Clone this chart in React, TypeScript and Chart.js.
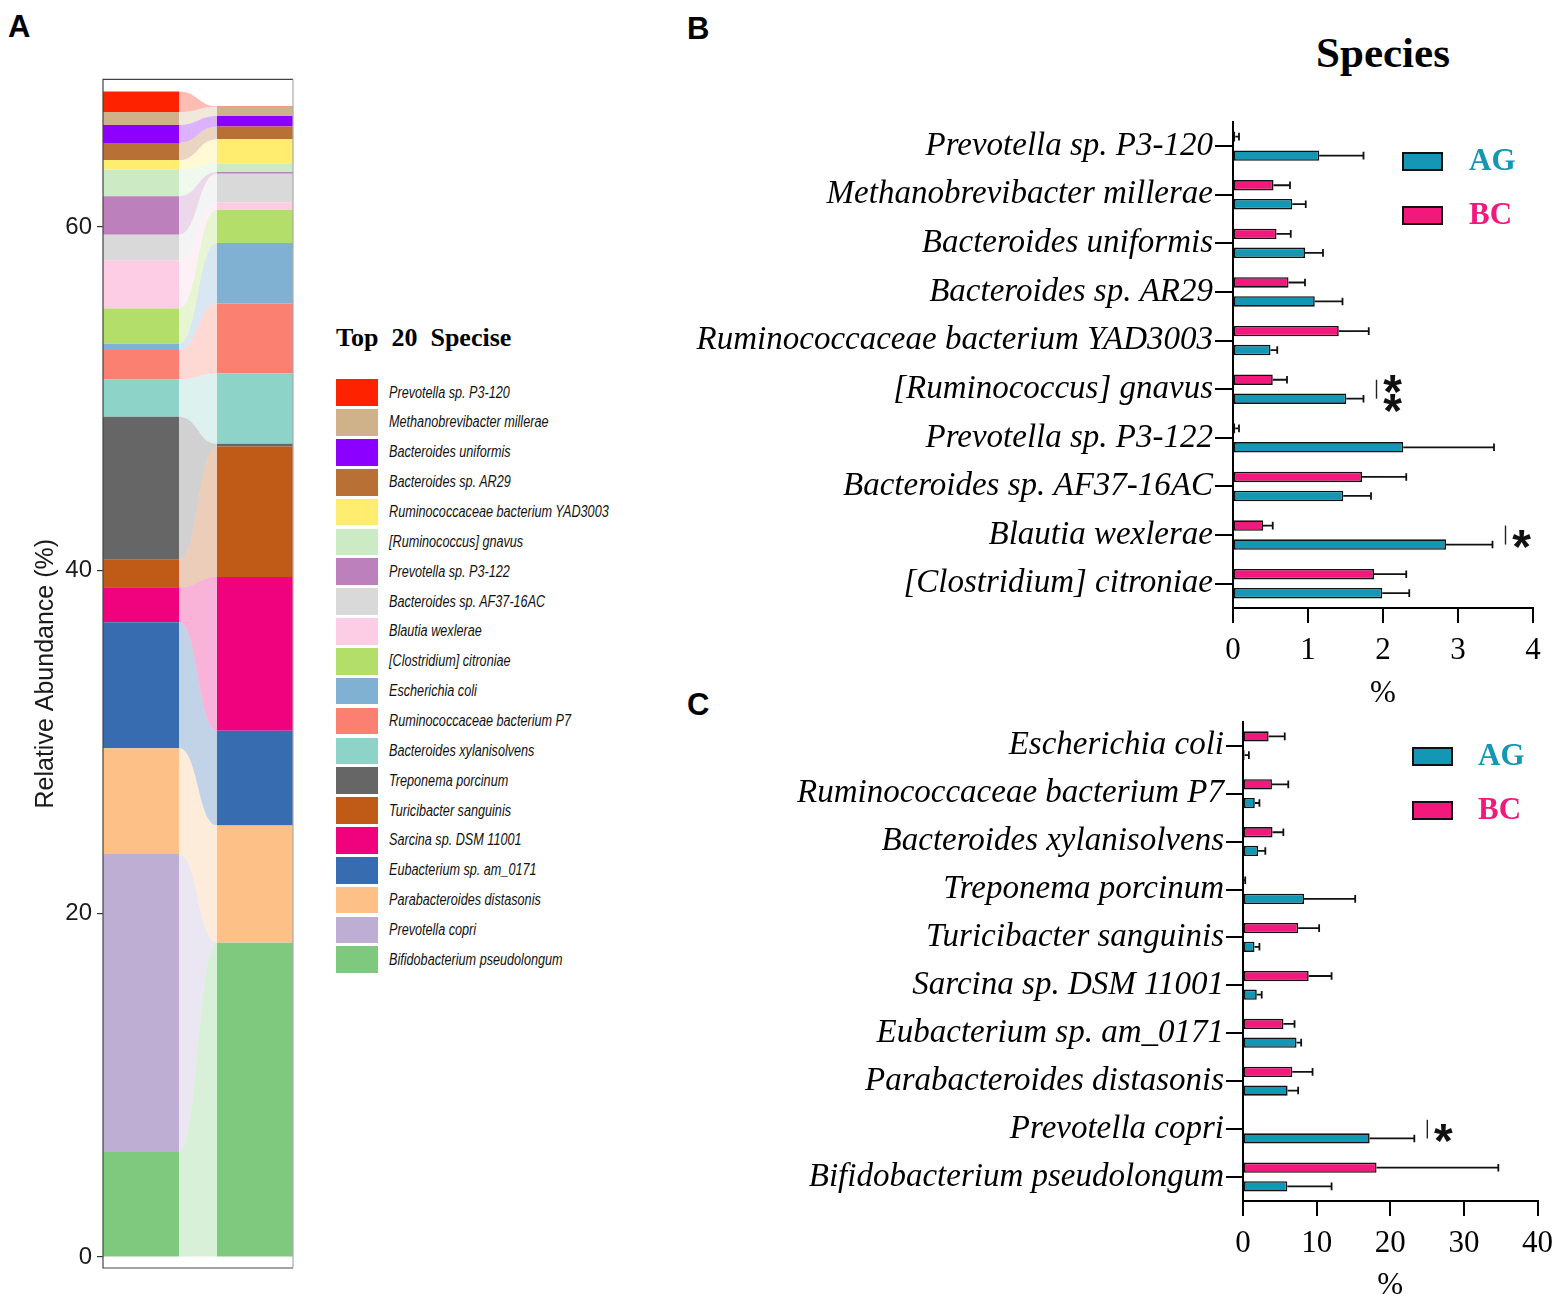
import React, { useEffect, useRef } from 'react';
import { Chart, registerables } from 'chart.js';

Chart.register(...registerables);

// ---------------- Panel A data ----------------
const speciesA = [
  'Prevotella sp. P3-120',
  'Methanobrevibacter millerae',
  'Bacteroides uniformis',
  'Bacteroides sp. AR29',
  'Ruminococcaceae bacterium YAD3003',
  '[Ruminococcus] gnavus',
  'Prevotella sp. P3-122',
  'Bacteroides sp. AF37-16AC',
  'Blautia wexlerae',
  '[Clostridium] citroniae',
  'Escherichia coli',
  'Ruminococcaceae bacterium P7',
  'Bacteroides xylanisolvens',
  'Treponema porcinum',
  'Turicibacter sanguinis',
  'Sarcina sp. DSM 11001',
  'Eubacterium sp. am_0171',
  'Parabacteroides distasonis',
  'Prevotella copri',
  'Bifidobacterium pseudolongum',
];
const colorsA = [
  '#FF2200', '#CFB28A', '#8B00FF', '#B87035', '#FFED6F',
  '#CCEBC5', '#BC80BD', '#D9D9D9', '#FCCDE5', '#B3DE69',
  '#80B1D3', '#FB8072', '#8DD3C7', '#666666', '#BF5B17',
  '#F0027F', '#386CB0', '#FDC086', '#BEAED4', '#7FC97F',
];
const abundanceAG = [1.2, 0.75, 1.05, 1.0, 0.55, 1.55, 2.25, 1.49, 2.8, 2.06, 0.37, 1.7, 2.18, 8.33, 1.61, 2.03, 7.35, 6.16, 17.35, 6.12];
const abundanceBC = [0.03, 0.54, 0.62, 0.73, 1.42, 0.5, 0.1, 1.65, 0.44, 1.94, 3.53, 4.07, 4.1, 0.15, 7.6, 8.96, 5.52, 6.82, 0.02, 18.3];
const yTicksA = [0, 20, 40, 60];

// ---------------- Panel B data ----------------
const speciesB = [
  'Prevotella sp. P3-120',
  'Methanobrevibacter millerae',
  'Bacteroides uniformis',
  'Bacteroides sp. AR29',
  'Ruminococcaceae bacterium YAD3003',
  '[Ruminococcus] gnavus',
  'Prevotella sp. P3-122',
  'Bacteroides sp. AF37-16AC',
  'Blautia wexlerae',
  '[Clostridium] citroniae',
];
const meanAG_B = [1.15, 0.79, 0.96, 1.09, 0.5, 1.51, 2.27, 1.47, 2.84, 1.99];
const sdAG_B = [0.59, 0.18, 0.24, 0.37, 0.09, 0.23, 1.21, 0.37, 0.62, 0.36];
const meanBC_B = [0.03, 0.54, 0.58, 0.74, 1.41, 0.53, 0.03, 1.72, 0.4, 1.88];
const sdBC_B = [0.05, 0.22, 0.19, 0.22, 0.4, 0.19, 0.05, 0.59, 0.13, 0.43];
const xTicksB = [0, 1, 2, 3, 4];
const sigB = [
  { category: '[Ruminococcus] gnavus', label: '**' },
  { category: 'Blautia wexlerae', label: '*' },
];

// ---------------- Panel C data ----------------
const speciesC = [
  'Escherichia coli',
  'Ruminococcaceae bacterium P7',
  'Bacteroides xylanisolvens',
  'Treponema porcinum',
  'Turicibacter sanguinis',
  'Sarcina sp. DSM 11001',
  'Eubacterium sp. am_0171',
  'Parabacteroides distasonis',
  'Prevotella copri',
  'Bifidobacterium pseudolongum',
];
const meanAG_C = [0.22, 1.6, 2.05, 8.29, 1.56, 1.87, 7.27, 6.06, 17.2, 6.02];
const sdAG_C = [0.58, 0.63, 0.98, 6.95, 0.67, 0.67, 0.63, 1.43, 6.07, 6.01];
const meanBC_C = [3.48, 3.93, 4.01, 0.1, 7.49, 8.92, 5.49, 6.69, 0, 18.14];
const sdBC_C = [2.19, 2.22, 1.47, 0.2, 2.85, 3.11, 1.51, 2.76, 0, 16.54];
const xTicksC = [0, 10, 20, 30, 40];
const sigC = [{ category: 'Prevotella copri', label: '*' }];

const groupLabels = ['AG', 'BC'];
const AG_COLOR = '#1397B4';
const BC_COLOR = '#F2187C';

const SERIF = "'Liberation Serif', 'Times New Roman', serif";
const SANS = "'Liberation Sans', Arial, sans-serif";

function hexToRgba(hex: string, a: number) {
  const h = hex.replace('#', '');
  const r = parseInt(h.slice(0, 2), 16);
  const g = parseInt(h.slice(2, 4), 16);
  const b = parseInt(h.slice(4, 6), 16);
  return `rgba(${r},${g},${b},${a})`;
}

// ---------------- plugins ----------------
const flowPlugin = {
  id: 'alluvialFlows',
  beforeDatasetsDraw(chart: any) {
    const ctx = chart.ctx;
    chart.data.datasets.forEach((ds: any, di: number) => {
      const meta = chart.getDatasetMeta(di);
      const a = meta.data[0];
      const b = meta.data[1];
      if (!a || !b) return;
      const x0 = a.x + a.width / 2;
      const x1 = b.x - b.width / 2;
      const xm = (x0 + x1) / 2;
      ctx.save();
      ctx.fillStyle = hexToRgba(ds.backgroundColor, 0.3);
      ctx.beginPath();
      ctx.moveTo(x0, a.y);
      ctx.bezierCurveTo(xm, a.y, xm, b.y, x1, b.y);
      ctx.lineTo(x1, b.base);
      ctx.bezierCurveTo(xm, b.base, xm, a.base, x0, a.base);
      ctx.closePath();
      ctx.fill();
      ctx.restore();
    });
  },
};

const boxPlugin = {
  id: 'panelBox',
  afterDraw(chart: any) {
    const { left, right, top, bottom } = chart.chartArea;
    const ctx = chart.ctx;
    ctx.save();
    ctx.lineWidth = 1.2;
    ctx.strokeStyle = '#444';
    ctx.beginPath();
    ctx.moveTo(right, top);
    ctx.lineTo(left, top);
    ctx.lineTo(left, bottom);
    ctx.lineTo(right, bottom);
    ctx.stroke();
    ctx.strokeStyle = '#aaa';
    ctx.beginPath();
    ctx.moveTo(right, top);
    ctx.lineTo(right, bottom);
    ctx.stroke();
    ctx.restore();
  },
};

const errorBarPlugin = {
  id: 'errorBars',
  afterDatasetsDraw(chart: any) {
    const ctx = chart.ctx;
    const xs = chart.scales.x;
    chart.data.datasets.forEach((ds: any, di: number) => {
      const errs = ds.errors;
      if (!errs) return;
      const meta = chart.getDatasetMeta(di);
      meta.data.forEach((el: any, i: number) => {
        const sd = errs[i];
        if (!sd) return;
        const x0 = el.x;
        const x1 = xs.getPixelForValue(ds.data[i] + sd);
        ctx.save();
        ctx.strokeStyle = '#111';
        ctx.lineWidth = 1.8;
        ctx.beginPath();
        ctx.moveTo(x0, el.y);
        ctx.lineTo(x1, el.y);
        ctx.moveTo(x1, el.y - 3.8);
        ctx.lineTo(x1, el.y + 3.8);
        ctx.stroke();
        ctx.restore();
      });
    });
  },
};

function makeSigPlugin(marks: { category: string; label: string }[]) {
  return {
    id: 'significance',
    afterDatasetsDraw(chart: any) {
      const ctx = chart.ctx;
      const xs = chart.scales.x;
      marks.forEach((m) => {
        const idx = chart.data.labels.indexOf(m.category);
        if (idx < 0) return;
        let maxEnd = -Infinity;
        const ys: number[] = [];
        chart.data.datasets.forEach((ds: any, di: number) => {
          const el = chart.getDatasetMeta(di).data[idx];
          const v = ds.data[idx] + ((ds.errors && ds.errors[idx]) || 0);
          maxEnd = Math.max(maxEnd, xs.getPixelForValue(v));
          ys.push(el.y);
        });
        const bx = maxEnd + 13;
        const top = Math.min(...ys);
        const bottom = Math.max(...ys);
        ctx.save();
        ctx.strokeStyle = '#222';
        ctx.lineWidth = 1.4;
        ctx.beginPath();
        ctx.moveTo(bx, top);
        ctx.lineTo(bx, bottom);
        ctx.stroke();
        const size = 48;
        ctx.font = `bold ${size}px ${SANS}`;
        ctx.fillStyle = '#111';
        ctx.textAlign = 'center';
        ctx.textBaseline = 'alphabetic';
        const sx = bx + 16;
        const starYs = m.label === '**' ? ys : [(top + bottom) / 2];
        starYs.forEach((y) => ctx.fillText('*', sx, y + size * 0.58));
        ctx.restore();
      });
    },
  };
}

// ---------------- configs ----------------
function configA() {
  const datasets = speciesA
    .map((name, i) => ({
      label: name,
      data: [
        { x: 0, y: abundanceAG[i] },
        { x: 1, y: abundanceBC[i] },
      ],
      backgroundColor: colorsA[i],
      borderWidth: 0,
      grouped: false,
      stack: 'abundance',
      categoryPercentage: 1,
      barPercentage: 2 / 3,
    }))
    .reverse();
  return {
    type: 'bar',
    data: { datasets },
    options: {
      animation: false,
      responsive: true,
      maintainAspectRatio: false,
      layout: { padding: { left: 30, top: 17, right: 27, bottom: 22 } },
      plugins: { legend: { display: false }, tooltip: { enabled: false } },
      scales: {
        x: {
          type: 'linear',
          stacked: true,
          display: false,
          offset: false,
          min: -1 / 3,
          max: 4 / 3,
          afterBuildTicks: (s: any) => {
            s.ticks = groupLabels.map((_, i) => ({ value: i }));
          },
        },
        y: {
          type: 'linear',
          stacked: true,
          min: -0.64,
          max: 68.6,
          afterBuildTicks: (s: any) => {
            s.ticks = yTicksA.map((v) => ({ value: v }));
          },
          afterFit: (s: any) => {
            s.width = 73;
          },
          grid: { drawOnChartArea: false, drawTicks: true, tickLength: 6, color: '#333', lineWidth: 1.2 },
          border: { display: false },
          ticks: { font: { family: SANS, size: 24 }, color: '#1a1a1a', padding: 5 },
          title: {
            display: true,
            text: 'Relative Abundance (%)',
            font: { family: SANS, size: 25 },
            color: '#1a1a1a',
            padding: { top: 1, bottom: 8 },
          },
        },
      },
    },
    plugins: [flowPlugin, boxPlugin],
  };
}

function configBars(p: any) {
  return {
    type: 'bar',
    data: {
      labels: p.categories,
      datasets: [
        {
          label: 'BC',
          data: p.bc,
          errors: p.bcSd,
          backgroundColor: BC_COLOR,
          borderColor: '#111',
          borderWidth: 1.6,
          borderSkipped: false,
          categoryPercentage: 0.78,
          barPercentage: 0.55,
        },
        {
          label: 'AG',
          data: p.ag,
          errors: p.agSd,
          backgroundColor: AG_COLOR,
          borderColor: '#111',
          borderWidth: 1.6,
          borderSkipped: false,
          categoryPercentage: 0.78,
          barPercentage: 0.55,
        },
      ],
    },
    options: {
      indexAxis: 'y',
      animation: false,
      responsive: true,
      maintainAspectRatio: false,
      layout: { padding: p.padding },
      plugins: { legend: { display: false }, tooltip: { enabled: false } },
      scales: {
        x: {
          type: 'linear',
          min: 0,
          max: p.xMax,
          afterBuildTicks: (s: any) => {
            s.ticks = p.xTicks.map((v: number) => ({ value: v }));
          },
          afterFit: (s: any) => {
            s.height = p.xAxisHeight;
          },
          grid: { drawOnChartArea: false, drawTicks: true, tickLength: 15, color: '#000', lineWidth: 2 },
          border: { color: '#000', width: 2 },
          ticks: { font: { family: SERIF, size: 31 }, color: '#000', padding: 9, autoSkip: false, maxRotation: 0 },
          title: {
            display: true,
            text: '%',
            font: { family: SERIF, size: 31 },
            color: '#000',
            padding: { top: 0, bottom: p.titlePad },
          },
        },
        y: {
          afterFit: (s: any) => {
            s.width = p.yAxisWidth;
          },
          grid: { offset: false, drawOnChartArea: false, drawTicks: true, tickLength: p.tickLen, color: '#000', lineWidth: 2 },
          border: { color: '#000', width: 2 },
          ticks: { font: { family: SERIF, size: 33, style: 'italic' }, color: '#000', padding: 2, autoSkip: false },
        },
      },
    },
    plugins: [errorBarPlugin, makeSigPlugin(p.sig)],
  };
}

function ChartBox({ style, makeConfig }: { style: React.CSSProperties; makeConfig: () => any }) {
  const ref = useRef<HTMLCanvasElement | null>(null);
  useEffect(() => {
    const chart = new Chart(ref.current as HTMLCanvasElement, makeConfig());
    return () => chart.destroy();
  }, []);
  return (
    <div style={{ position: 'absolute', ...style }}>
      <canvas ref={ref} />
    </div>
  );
}

function GroupLegend({ left, top, textLeft }: { left: number; top: number; textLeft: number }) {
  const colors = [AG_COLOR, BC_COLOR];
  return (
    <>
      {groupLabels.map((g, i) => (
        <React.Fragment key={g}>
          <div
            style={{
              position: 'absolute',
              left,
              top: top + i * 54,
              width: 41,
              height: 19,
              boxSizing: 'border-box',
              border: '2px solid #111',
              background: colors[i],
            }}
          />
          <div
            style={{
              position: 'absolute',
              left: textLeft,
              top: top + i * 54 - 10,
              height: 40,
              lineHeight: '40px',
              font: `bold 31px ${SERIF}`,
              color: colors[i],
            }}
          >
            {g}
          </div>
        </React.Fragment>
      ))}
    </>
  );
}

const letterStyle: React.CSSProperties = {
  position: 'absolute',
  font: `bold 31px ${SANS}`,
  lineHeight: '31px',
  color: '#000',
};

export default function App() {
  return (
    <div
      style={{
        position: 'absolute',
        left: 0,
        top: 0,
        width: 1562,
        height: 1300,
        overflow: 'hidden',
        background: '#fff',
      }}
    >
      <div style={{ ...letterStyle, left: 8, top: 11 }}>A</div>
      <div style={{ ...letterStyle, left: 687, top: 13 }}>B</div>
      <div style={{ ...letterStyle, left: 687, top: 689 }}>C</div>

      <ChartBox style={{ left: 0, top: 60, width: 320, height: 1230 }} makeConfig={configA} />

      <div
        style={{
          position: 'absolute',
          left: 336,
          top: 323,
          lineHeight: '30px',
          font: `bold 26px ${SERIF}`,
          whiteSpace: 'pre',
          color: '#000',
        }}
      >
        {'Top  20  Specise'}
      </div>
      {speciesA.map((s, i) => (
        <div
          key={s}
          style={{
            position: 'absolute',
            left: 336,
            top: 379.3 + i * 29.85,
            height: 26.7,
            display: 'flex',
            alignItems: 'center',
          }}
        >
          <div style={{ width: 42, height: 26.7, background: colorsA[i], flex: 'none' }} />
          <span
            style={{
              marginLeft: 11,
              font: `italic 16px ${SANS}`,
              color: '#111',
              whiteSpace: 'nowrap',
              display: 'inline-block',
              transform: 'scaleX(0.79)',
              transformOrigin: 'left center',
            }}
          >
            {s}
          </span>
        </div>
      ))}

      <div
        style={{
          position: 'absolute',
          left: 1283,
          top: 28,
          width: 200,
          textAlign: 'center',
          lineHeight: '50px',
          font: `bold 43px ${SERIF}`,
          color: '#000',
        }}
      >
        Species
      </div>

      <ChartBox
        style={{ left: 680, top: 100, width: 882, height: 620 }}
        makeConfig={() =>
          configBars({
            categories: speciesB,
            ag: meanAG_B,
            agSd: sdAG_B,
            bc: meanBC_B,
            bcSd: sdBC_B,
            xMax: 4,
            xTicks: xTicksB,
            sig: sigB,
            padding: { top: 21, right: 29, bottom: 0, left: 0 },
            xAxisHeight: 112,
            yAxisWidth: 553,
            titlePad: 8,
            tickLen: 18,
          })
        }
      />
      <GroupLegend left={1402} top={152} textLeft={1469} />

      <ChartBox
        style={{ left: 680, top: 700, width: 882, height: 604 }}
        makeConfig={() =>
          configBars({
            categories: speciesC,
            ag: meanAG_C,
            agSd: sdAG_C,
            bc: meanBC_C,
            bcSd: sdBC_C,
            xMax: 40,
            xTicks: xTicksC,
            sig: sigC,
            padding: { top: 17, right: 20, bottom: 0, left: 0 },
            xAxisHeight: 103,
            yAxisWidth: 563,
            titlePad: 0,
            tickLen: 17,
          })
        }
      />
      <GroupLegend left={1412} top={747} textLeft={1478} />
    </div>
  );
}
